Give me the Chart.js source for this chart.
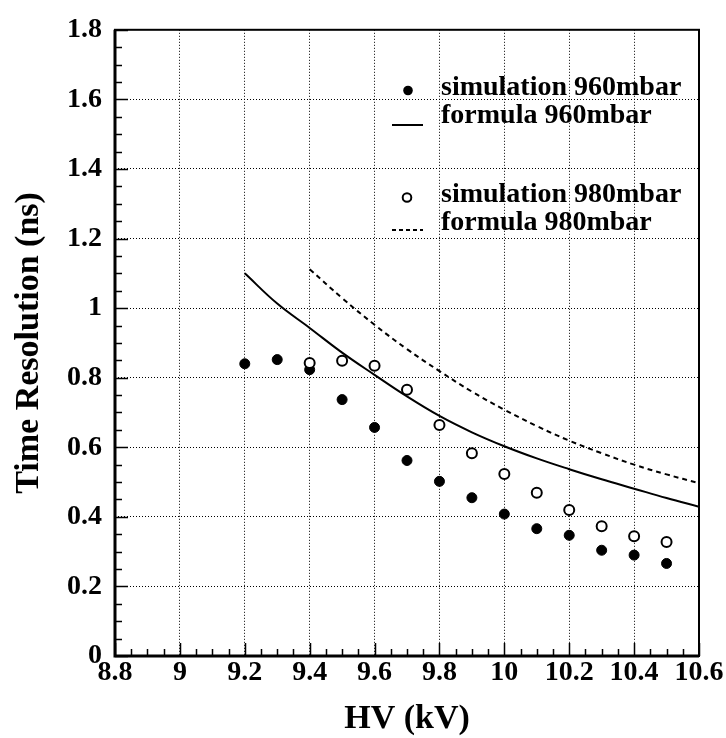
<!DOCTYPE html>
<html>
<head>
<meta charset="utf-8">
<script src="https://cdn.jsdelivr.net/npm/chart.js@4/dist/chart.umd.min.js"></script>
<style>
html,body{margin:0;padding:0;background:#fff;}
canvas{display:block;}
</style>
</head>
<body>
<canvas id="c" width="726" height="738"></canvas>
<script>
// ---- data ----
const hvSim960 = [9.2, 9.3, 9.4, 9.5, 9.6, 9.7, 9.8, 9.9, 10.0, 10.1, 10.2, 10.3, 10.4, 10.5];
const sim960   = [0.840, 0.852, 0.823, 0.737, 0.657, 0.562, 0.502, 0.455, 0.408, 0.366, 0.347, 0.304, 0.290, 0.266];
const hvSim980 = [9.4, 9.5, 9.6, 9.7, 9.8, 9.9, 10.0, 10.1, 10.2, 10.3, 10.4, 10.5];
const sim980   = [0.842, 0.849, 0.834, 0.765, 0.664, 0.583, 0.523, 0.469, 0.420, 0.373, 0.344, 0.328];
const hvFormula960 = [9.2, 9.3, 9.4, 9.5, 9.6, 9.7, 9.8, 9.9, 10.0, 10.1, 10.2, 10.3, 10.4, 10.5, 10.6];
const formula960   = [1.100, 1.013, 0.943, 0.872, 0.808, 0.746, 0.690, 0.643, 0.603, 0.568, 0.537, 0.508, 0.481, 0.454, 0.429];
const hvFormula980 = [9.4, 9.5, 9.6, 9.7, 9.8, 9.9, 10.0, 10.1, 10.2, 10.3, 10.4, 10.5, 10.6];
const formula980   = [1.112, 1.029, 0.952, 0.882, 0.819, 0.760, 0.708, 0.661, 0.619, 0.583, 0.550, 0.522, 0.497];
const seriesLabels = ['simulation 960mbar', 'formula 960mbar', 'simulation 980mbar', 'formula 980mbar'];
const xTitle = 'HV (kV)';
const yTitle = 'Time Resolution (ns)';
const xRange = [8.8, 10.6];
const yRange = [0, 1.8];

const FONT = '"Liberation Serif", "Times New Roman", serif';
const toXY = (xs, ys) => xs.map((x, i) => ({x: x, y: ys[i]}));
const fmt = v => { const r = Math.round(v * 10) / 10; return Number.isInteger(r) ? String(r) : r.toFixed(1); };

const framePlugin = {
  id: 'frame',
  afterDatasetsDraw(chart) {
    const {ctx, chartArea: a, scales: {x, y}} = chart;
    ctx.save();
    ctx.strokeStyle = '#000';
    ctx.setLineDash([]);
    // minor + major ticks inside
    ctx.lineWidth = 1.5;
    ctx.beginPath();
    for (let i = 0; i <= 36; i++) {
      const py = Math.round(y.getPixelForValue(yRange[0] + i * 0.05)) + 0.5;
      const len = (i % 4 === 0) ? 13 : 7;
      ctx.moveTo(a.left, py); ctx.lineTo(a.left + len, py);
      const px = Math.round(x.getPixelForValue(xRange[0] + i * 0.05)) + 0.5;
      ctx.moveTo(px, a.bottom); ctx.lineTo(px, a.bottom - len);
    }
    ctx.stroke();
    // frame
    ctx.lineWidth = 2;
    ctx.strokeRect(a.left, a.top, a.right - a.left, a.bottom - a.top);
    ctx.lineWidth = 3;
    ctx.beginPath();
    ctx.moveTo(a.left, a.top); ctx.lineTo(a.left, a.bottom); ctx.lineTo(a.right, a.bottom);
    ctx.stroke();

    // legend
    ctx.fillStyle = '#000';
    ctx.font = 'bold 28px ' + FONT;
    ctx.textBaseline = 'alphabetic';
    ctx.textAlign = 'left';
    const tx = 441;
    const rows = [95, 123, 202, 230];
    rows.forEach((b, i) => ctx.fillText(chart.data.datasets[i].label, tx, b));
    // markers
    ctx.beginPath(); ctx.arc(408, 90.5, 4.8, 0, Math.PI * 2); ctx.fill();
    ctx.lineWidth = 2;
    ctx.beginPath(); ctx.moveTo(392, 125); ctx.lineTo(423, 125); ctx.stroke();
    ctx.beginPath(); ctx.arc(407, 197.5, 4.3, 0, Math.PI * 2); ctx.stroke();
    ctx.setLineDash([4, 3]);
    ctx.beginPath(); ctx.moveTo(392, 230); ctx.lineTo(423, 230); ctx.stroke();
    ctx.restore();
  }
};

new Chart(document.getElementById('c'), {
  type: 'scatter',
  data: {
    datasets: [
      {label: seriesLabels[0], data: toXY(hvSim960, sim960), showLine: false,
       pointRadius: 5, pointBackgroundColor: '#000', pointBorderColor: '#000', pointBorderWidth: 1, order: 1},
      {label: seriesLabels[1], data: toXY(hvFormula960, formula960), showLine: true,
       pointRadius: 0, borderColor: '#000', borderWidth: 2, tension: 0.4, order: 3},
      {label: seriesLabels[2], data: toXY(hvSim980, sim980), showLine: false,
       pointRadius: 5, pointBackgroundColor: '#fff', pointBorderColor: '#000', pointBorderWidth: 2, order: 0},
      {label: seriesLabels[3], data: toXY(hvFormula980, formula980), showLine: true,
       pointRadius: 0, borderColor: '#000', borderWidth: 2, borderDash: [5, 4], tension: 0.4, order: 2}
    ]
  },
  options: {
    responsive: false,
    animation: false,
    devicePixelRatio: 1,
    layout: {padding: {left: 0, right: 27, top: 20, bottom: 0}},
    plugins: {legend: {display: false}, tooltip: {enabled: false}},
    scales: {
      x: {
        type: 'linear', min: xRange[0], max: xRange[1],
        afterFit: s => { s.height = 82; },
        grid: {color: '#000', lineWidth: 1, drawTicks: false},
        border: {display: false, dash: [1, 2]},
        ticks: {stepSize: 0.2, color: '#000', padding: 0, maxRotation: 0, autoSkip: false,
                font: {family: FONT, size: 28, weight: 'bold'}, callback: v => fmt(v)},
        title: {display: true, text: xTitle, color: '#000', padding: {top: 0, bottom: 0},
                font: {family: FONT, size: 34, weight: 'bold', lineHeight: 1.1}}
      },
      y: {
        type: 'linear', min: yRange[0], max: yRange[1],
        afterFit: s => { s.width = 115; },
        grid: {color: '#000', lineWidth: 1, drawTicks: false},
        border: {display: false, dash: [1, 2]},
        ticks: {stepSize: 0.2, color: '#000', padding: 13, autoSkip: false,
                font: {family: FONT, size: 28, weight: 'bold'}, callback: v => fmt(v)},
        title: {display: true, text: yTitle, color: '#000', padding: {top: 11, bottom: 0},
                font: {family: FONT, size: 34, weight: 'bold', lineHeight: 1.1}}
      }
    }
  },
  plugins: [framePlugin]
});
</script>
</body>
</html>
